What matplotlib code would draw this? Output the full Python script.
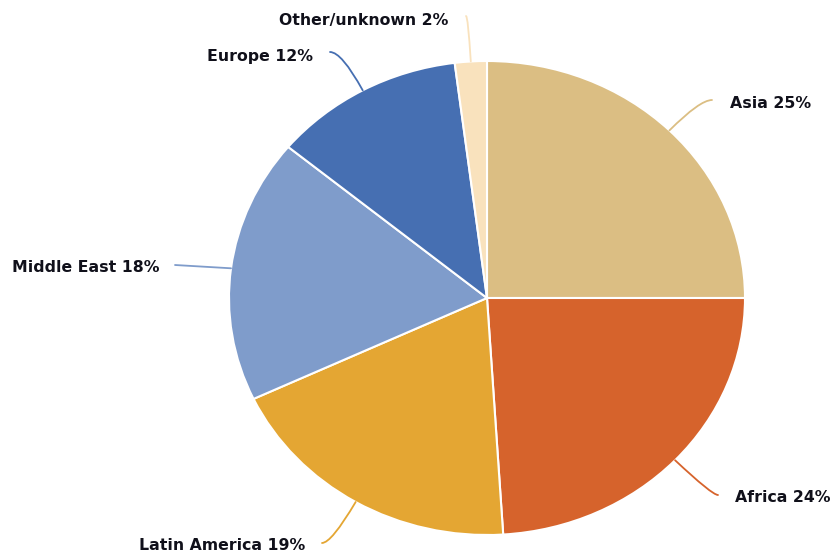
import numpy as np
import matplotlib.pyplot as plt

regions = ["Asia", "Africa", "Latin America", "Middle East", "Europe", "Other/unknown"]
shares = [25, 24, 19, 18, 12, 2]
colors = ["#DBBE83", "#D6632C", "#E4A633", "#7F9CCB", "#466FB2", "#F9E2BD"]

# layout in pixels: (text x, text y, connector end x, connector end y, text alignment)
label_pos = [
    (730, 104, 712, 100, "left"),
    (735, 498, 718, 495, "left"),
    (305, 545, 322, 543, "right"),
    (160, 268, 175, 265, "right"),
    (313, 57, 330, 52, "right"),
    (448, 20, 466, 16, "right"),
]

W, H = 834, 555
cx, cy, rx, ry = 487, 298, 258, 237


def px(x, y):
    return (x - cx) / rx, (cy - y) / ry


fig = plt.figure(figsize=(W / 100, H / 100), dpi=100)
ax = fig.add_axes([0, 0, 1, 1])

wedges, _ = ax.pie(shares, colors=colors, startangle=90, counterclock=False,
                   radius=1, wedgeprops=dict(edgecolor="white", linewidth=1.5))
ax.set_aspect("auto")
ax.set_xlim(-cx / rx, (W - cx) / rx)
ax.set_ylim(-(H - cy) / ry, cy / ry)
ax.axis("off")

for w, name, share, color, (tx, ty, ex, ey, ha) in zip(wedges, regions, shares, colors, label_pos):
    mid = np.deg2rad((w.theta1 + w.theta2) / 2)
    anchor = (np.cos(mid), np.sin(mid))
    end = px(ex, ey)
    if name == "Middle East":
        style = "arc3,rad=0"
    else:
        style = "angle3,angleA=0,angleB=%.1f" % np.rad2deg(mid)
    ax.annotate("", xy=anchor, xytext=end,
                arrowprops=dict(arrowstyle="-", color=color, lw=1.3,
                                shrinkA=0, shrinkB=0, connectionstyle=style))
    ax.text(*px(tx, ty), f"{name} {share}%", ha=ha, va="center",
            fontsize=11.3, fontweight="bold", color="#10101a")

fig.savefig("out.png", dpi=100)
plt.close(fig)
